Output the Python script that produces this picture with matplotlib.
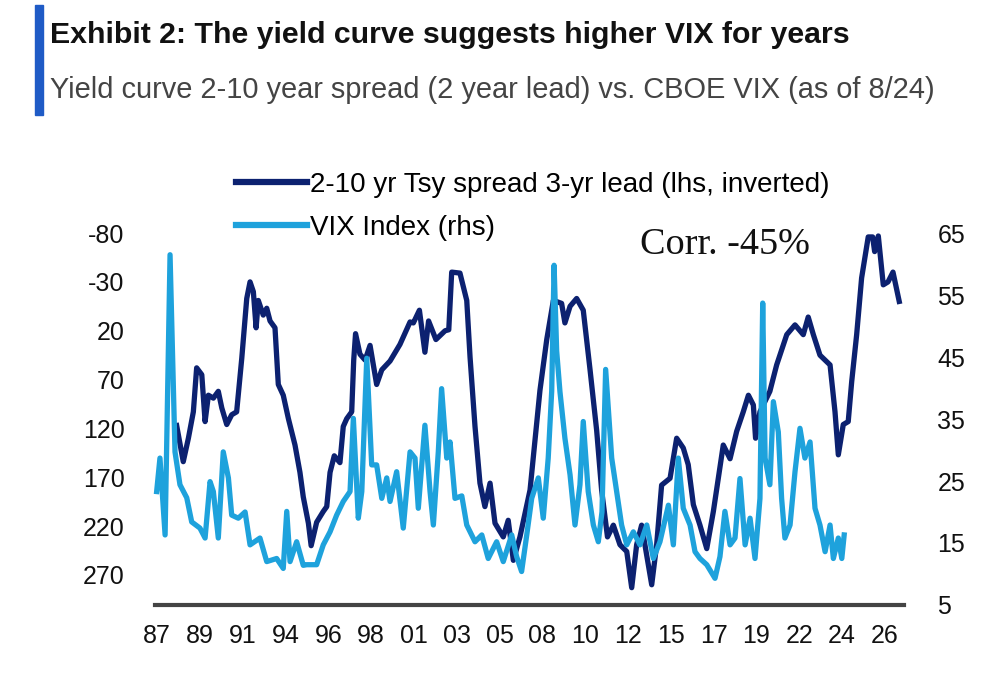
import numpy as np
import matplotlib
matplotlib.use("Agg")
import matplotlib.pyplot as plt
from matplotlib.lines import Line2D

# 2-10 yr Tsy spread, 3-yr lead (bp, lhs inverted)
spread_years = [1988.07, 1988.43, 1988.71, 1988.98, 1989.16, 1989.44, 1989.62, 1989.80, 1990.07, 1990.34,
                1990.53, 1990.80, 1991.07, 1991.34, 1991.62, 1991.89, 1992.07, 1992.25, 1992.40, 1992.52,
                1992.79, 1992.98, 1993.16, 1993.43, 1993.61, 1993.88, 1994.16, 1994.52, 1994.79, 1994.97,
                1995.25, 1995.40, 1995.70, 1996.06, 1996.25, 1996.43, 1996.66, 1996.97, 1997.15, 1997.34,
                1997.61, 1997.72, 1997.82, 1998.06, 1998.34, 1998.61, 1998.97, 1999.25, 1999.70, 2000.24,
                2000.79, 2000.97, 2001.30, 2001.60, 2001.80, 2002.20, 2002.70, 2002.90, 2003.06, 2003.51,
                2003.88, 2004.06, 2004.33, 2004.60, 2004.87, 2005.15, 2005.42, 2005.87, 2006.14, 2006.42,
                2006.78, 2007.33, 2007.87, 2008.24, 2008.60, 2009.05, 2009.23, 2009.51, 2009.87, 2010.23,
                2010.60, 2010.96, 2011.23, 2011.55, 2011.87, 2012.23, 2012.60, 2012.87, 2013.14, 2013.41,
                2013.69, 2013.96, 2014.23, 2014.50, 2014.96, 2015.32, 2015.68, 2015.95, 2016.23, 2016.59,
                2016.96, 2017.32, 2017.86, 2018.23, 2018.59, 2018.95, 2019.23, 2019.50, 2019.62, 2019.86,
                2020.40, 2020.77, 2021.32, 2021.77, 2022.22, 2022.49, 2022.77, 2023.13, 2023.68, 2023.95,
                2024.13, 2024.40, 2024.67, 2024.86, 2025.13, 2025.40, 2025.76, 2026.00, 2026.11, 2026.31,
                2026.58, 2026.84, 2027.11, 2027.45]
spread_values = [117, 154, 130, 103, 58, 65, 113, 86, 89, 82,
                 99, 116, 106, 103, 48, -13, -30, -20, 17, -11,
                 4, -3, 10, 17, 75, 86, 110, 137, 165, 190,
                 217, 240, 216, 205, 200, 165, 148, 155, 118, 110,
                 103, 50, 23, 44, 50, 35, 75, 60, 51, 34,
                 11, 12, -1, 42, 10, 29, 20, 19, -40, -39,
                 -11, 47, 118, 176, 200, 176, 217, 231, 214, 255,
                 231, 183, 81, 29, -11, -8, 12, -5, -13, -1,
                 60, 122, 183, 231, 219, 239, 246, 283, 239, 219,
                 250, 280, 239, 178, 171, 130, 140, 157, 198, 219,
                 243, 205, 137, 151, 123, 103, 86, 96, 130, 103,
                 82, 55, 24, 14, 24, 6, 24, 45, 55, 103,
                 147, 116, 113, 72, 24, -34, -76, -76, -61, -77,
                 -27, -30, -40, -10]

# CBOE VIX (rhs)
vix_years = [1986.98, 1987.16, 1987.44, 1987.71, 1987.98, 1988.25, 1988.62, 1988.89, 1989.34, 1989.62,
             1989.89, 1990.07, 1990.34, 1990.61, 1990.89, 1991.07, 1991.43, 1991.80, 1992.07, 1992.61,
             1992.98, 1993.52, 1993.88, 1994.07, 1994.25, 1994.61, 1994.97, 1995.16, 1995.70, 1996.06,
             1996.43, 1996.79, 1997.15, 1997.52, 1997.70, 1997.97, 1998.16, 1998.43, 1998.70, 1998.97,
             1999.25, 1999.52, 1999.70, 2000.06, 2000.42, 2000.79, 2001.06, 2001.24, 2001.60, 2001.88,
             2002.06, 2002.33, 2002.51, 2002.79, 2002.97, 2003.24, 2003.61, 2003.88, 2004.33, 2004.70,
             2005.05, 2005.51, 2005.87, 2006.33, 2006.60, 2006.87, 2007.15, 2007.42, 2007.78, 2008.05,
             2008.32, 2008.51, 2008.64, 2008.78, 2008.96, 2009.23, 2009.51, 2009.78, 2010.05, 2010.23,
             2010.50, 2010.78, 2011.05, 2011.25, 2011.45, 2011.78, 2012.05, 2012.32, 2012.60, 2012.96,
             2013.32, 2013.69, 2014.05, 2014.41, 2014.87, 2015.14, 2015.41, 2015.68, 2016.05, 2016.32,
             2016.59, 2016.96, 2017.41, 2017.68, 2017.95, 2018.23, 2018.50, 2018.77, 2019.05, 2019.32,
             2019.59, 2019.86, 2020.01, 2020.14, 2020.40, 2020.59, 2020.86, 2021.04, 2021.22, 2021.50,
             2021.77, 2022.04, 2022.31, 2022.59, 2022.86, 2023.13, 2023.41, 2023.68, 2023.86, 2024.13,
             2024.32, 2024.45]
vix_values = [23.3, 28.7, 16.3, 61.5, 29.7, 24.4, 22.3, 18.4, 17.4, 15.8,
              24.9, 23.3, 15.8, 29.7, 25.5, 19.5, 19.0, 20.0, 14.7, 15.8,
              12.0, 12.5, 10.9, 20.1, 12.0, 15.2, 11.4, 11.5, 11.5, 14.7,
              16.8, 19.5, 21.7, 23.3, 35.1, 19.0, 23.3, 44.8, 27.6, 27.6,
              22.2, 25.5, 21.7, 26.5, 17.4, 29.7, 28.7, 20.6, 34.0, 23.3,
              17.9, 29.7, 39.9, 28.7, 31.3, 22.2, 22.6, 17.9, 15.2, 16.3,
              12.5, 15.2, 12.0, 16.3, 12.8, 10.4, 16.3, 22.2, 25.5, 19.0,
              28.7, 39.5, 59.8, 46.0, 39.4, 31.9, 26.0, 17.9, 24.4, 34.6,
              23.3, 17.9, 15.2, 20.0, 43.0, 28.7, 23.3, 17.9, 14.7, 16.8,
              14.7, 17.9, 12.5, 15.2, 21.1, 14.7, 28.7, 20.6, 17.9, 13.6,
              12.5, 11.5, 9.3, 12.8, 20.1, 14.7, 15.8, 25.4, 14.7, 19.0,
              12.5, 22.2, 53.7, 28.7, 24.4, 37.8, 32.9, 22.2, 15.8, 17.9,
              26.5, 33.5, 28.7, 31.3, 20.6, 17.9, 13.6, 17.9, 12.5, 15.8,
              12.5, 16.3]

left_ticks = [-80, -30, 20, 70, 120, 170, 220, 270]
right_ticks = [5, 15, 25, 35, 45, 55, 65]
year_labels = ["87", "89", "91", "94", "96", "98", "01", "03", "05", "08",
               "10", "12", "15", "17", "19", "22", "24", "26"]

dark = "#0c2170"
light = "#1ea2dc"
plt.rcParams["font.family"] = ["Liberation Sans", "DejaVu Sans"]
plt.rcParams["axes.unicode_minus"] = False

fig = plt.figure(figsize=(10, 6.85), dpi=100)
ax = fig.add_axes([0.155, 0.1168, 0.749, 0.543])
ax2 = ax.twinx()

ax.plot(spread_years, spread_values, color=dark, lw=3.8, solid_joinstyle="round", clip_on=False)
ax2.plot(vix_years, vix_values, color=light, lw=3.8, solid_joinstyle="round", clip_on=False)

ax.set_xlim(1986.89, 2027.71)
ax.set_ylim(300.7, -80)
ax2.set_ylim(5, 65)

xt = [1987 + i * 28 / 12 for i in range(len(year_labels))]
ax.set_xticks(xt)
ax.set_xticklabels(year_labels)
ax.set_yticks(left_ticks)
ax2.set_yticks(right_ticks)

for a in (ax, ax2):
    for s in ("top", "left", "right", "bottom"):
        a.spines[s].set_visible(False)
ax.spines["bottom"].set_visible(True)
ax.spines["bottom"].set_color("#444444")
ax.spines["bottom"].set_linewidth(3)

ax.tick_params(axis="x", length=0, pad=14, labelsize=18, colors="#111111")
ax.tick_params(axis="y", length=0, pad=22, labelsize=18, colors="#111111")
ax2.tick_params(axis="y", length=0, pad=24, labelsize=18, colors="#111111")

handles = [Line2D([], [], color=dark, lw=4.5), Line2D([], [], color=light, lw=4.5)]
fig.legend(handles, ["2-10 yr Tsy spread 3-yr lead (lhs, inverted)", "VIX Index (rhs)"],
           loc="upper left", bbox_to_anchor=(0.236, 1 - 172 / 685), frameon=False,
           fontsize=20, handlelength=2.55, handletextpad=0.1, labelspacing=0.6,
           borderpad=0, borderaxespad=0)

fig.text(0.64, 1 - 245 / 685, "Corr. -45%", family=["Liberation Serif", "DejaVu Serif"],
         fontsize=27.5, va="center", ha="left", color="#111111")

fig.patches.append(plt.Rectangle((0.035, 1 - 115 / 685), 0.008, 110 / 685,
                                 transform=fig.transFigure, color="#1f5bc6", zorder=5))
fig.text(0.05, 1 - 35 / 685, "Exhibit 2: The yield curve suggests higher VIX for years",
         fontweight="bold", fontsize=21.8, va="center", ha="left", color="#111111")
fig.text(0.05, 1 - 90 / 685, "Yield curve 2-10 year spread (2 year lead) vs. CBOE VIX (as of 8/24)",
         fontsize=20.9, va="center", ha="left", color="#444444")

fig.savefig("out.png", dpi=100, facecolor="white")
